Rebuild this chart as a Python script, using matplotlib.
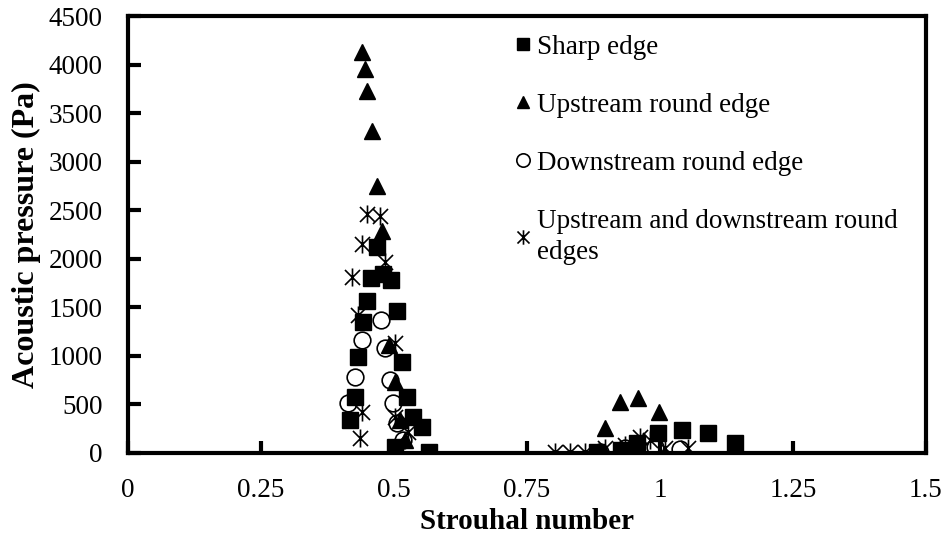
import matplotlib
matplotlib.use("Agg")
import matplotlib.pyplot as plt
from matplotlib.path import Path

# ---- data ----
sharp_st = [0.417, 0.427, 0.432, 0.442, 0.449, 0.457, 0.468, 0.479, 0.494, 0.506,
            0.515, 0.524, 0.536, 0.553, 0.502, 0.566, 0.882, 0.927, 0.957, 0.996,
            1.041, 1.090, 1.141]
sharp_p = [341, 579, 992, 1353, 1560, 1798, 2118, 1839, 1777, 1457,
           940, 579, 372, 269, 62, 10, 10, 31, 103, 207,
           238, 207, 103]

up_st = [0.440, 0.445, 0.449, 0.459, 0.468, 0.477, 0.491, 0.502, 0.511, 0.521,
         0.897, 0.925, 0.959, 0.998]
up_p = [4132, 3957, 3729, 3316, 2748, 2283, 1116, 733, 341, 134,
        258, 527, 568, 424]

down_st = [0.414, 0.427, 0.440, 0.476, 0.483, 0.492, 0.498, 0.506, 0.517,
           0.887, 0.934, 0.990, 1.038]
down_p = [516, 785, 1167, 1374, 1085, 754, 516, 310, 134,
          10, 52, 62, 41]

both_st = [0.436, 0.440, 0.432, 0.421, 0.440, 0.449, 0.474, 0.483, 0.502, 0.502,
           0.526, 0.803, 0.831, 0.859, 0.897, 0.934, 0.962, 0.981, 1.009, 1.053]
both_p = [155, 424, 1425, 1808, 2150, 2459, 2438, 1963, 1136, 372,
          217, 10, 10, 10, 52, 83, 165, 134, 52, 52]

labels = ["Sharp edge", "Upstream round edge", "Downstream round edge",
          "Upstream and downstream round\nedges"]
x_ticks = [0, 0.25, 0.5, 0.75, 1, 1.25, 1.5]
x_tick_labels = ["0", "0.25", "0.5", "0.75", "1", "1.25", "1.5"]
y_ticks = [0, 500, 1000, 1500, 2000, 2500, 3000, 3500, 4000, 4500]

# ---- style ----
plt.rcParams['font.family'] = ['Liberation Serif', 'DejaVu Serif']

ast_path = Path([(-1, -1), (1, 1), (-1, 1), (1, -1), (0, -1.2), (0, 1.2)],
                [Path.MOVETO, Path.LINETO, Path.MOVETO, Path.LINETO,
                 Path.MOVETO, Path.LINETO])

fig = plt.figure(figsize=(9.41, 5.41), dpi=100)
ax = fig.add_axes([0.136, 0.163, 0.848, 0.807])

ax.plot(sharp_st, sharp_p, linestyle='none', marker='s', markersize=11,
        color='black', label=labels[0])
ax.plot(up_st, up_p, linestyle='none', marker='^', markersize=11.5,
        color='black', label=labels[1])
ax.plot(down_st, down_p, linestyle='none', marker='o', markersize=12,
        markerfacecolor='none', markeredgecolor='black', markeredgewidth=1.2,
        label=labels[2])
ax.plot(both_st, both_p, linestyle='none', marker=ast_path, markersize=13,
        markerfacecolor='none', markeredgecolor='black', markeredgewidth=1.2,
        label=labels[3])

ax.set_xlim(0, 1.5)
ax.set_ylim(0, 4500)
ax.set_xticks(x_ticks)
ax.set_xticklabels(x_tick_labels)
ax.set_yticks(y_ticks)
ax.tick_params(axis='both', direction='in', length=9, width=3, labelsize=19.5,
               top=False, right=False)
ax.tick_params(axis='x', pad=18)
ax.tick_params(axis='y', pad=18)
for sp in ax.spines.values():
    sp.set_linewidth(3)

ax.set_xlabel("Strouhal number", fontsize=21, fontweight='bold', labelpad=4)
ax.set_ylabel("Acoustic pressure (Pa)", fontsize=23, fontweight='bold', labelpad=6)

leg = ax.legend(loc='upper left', bbox_to_anchor=(0.465, 0.995), frameon=False,
                fontsize=19.5, handlelength=0.6, handletextpad=0.2,
                labelspacing=1.22, markerscale=0.8, borderaxespad=0.2)
for t in leg.get_texts():
    t.set_linespacing(1.35)

fig.savefig("out.png", dpi=100)
